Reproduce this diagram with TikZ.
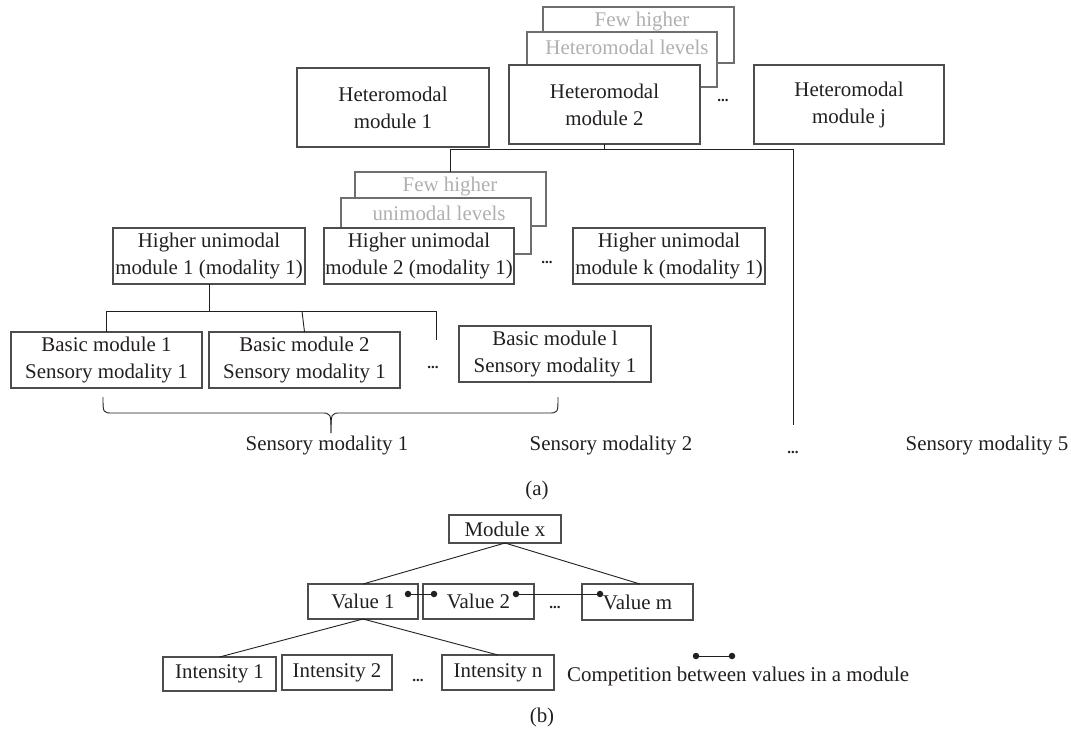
\documentclass[tikz,border=0pt]{standalone}
\usepackage{fontspec}
\setmainfont{Liberation Serif}
\definecolor{txt}{HTML}{231F20}
\definecolor{edge}{HTML}{4D4D4D}
\definecolor{ghost}{HTML}{B0B0B0}
\definecolor{ghostedge}{HTML}{6E6E6E}
\tikzset{
  every node/.style={font=\fontsize{20.9}{27}\selectfont, text=txt},
  box/.style 2 args={draw=edge, line width=1.1pt, fill=white, inner sep=0pt, outer sep=0pt,
    minimum width=#1pt, minimum height=#2pt, align=center},
  ghostbox/.style 2 args={box={#1}{#2}, draw=ghostedge},
  ghosttext/.style={text=ghost, inner sep=0pt},
  lbl/.style={inner sep=0pt},
  ellip/.style={inner sep=0pt, font=\fontsize{15}{15}\selectfont\bfseries},
  wire/.style={draw=txt, line width=0.9pt},
  dotmark/.style={circle, fill=txt, inner sep=0pt, minimum size=6.5pt},
}
\begin{document}
\begin{tikzpicture}[x=1pt, y=-1pt]
\useasboundingbox (0,0) rectangle (1071,729);
\fill[white] (0,0) rectangle (1071,729);

% ---------- heteromodal level ----------
\node[box={192}{79}] (hm1) at (393,107.5) {Heteromodal\\module 1};
\node[ghostbox={191}{56}] (hb2) at (638.5,35) {};
\node[ghosttext] (hb2t) at (642,21) {Few higher};
\node[ghostbox={190}{55}] (hb1) at (622,59.5) {};
\node[ghosttext] (hb1t) at (627,47) {Heteromodal levels};
\node[box={191}{79}] (hm2) at (604.5,104.5) {Heteromodal\\module 2};
\node[ellip] (hdots) at (723,100) {...};
\node[box={190}{79}] (hmj) at (849,104.5) {Heteromodal\\module j};

\coordinate (tbR) at (793,149);
\coordinate (tbEnd) at (793,425);

% ---------- higher unimodal level ----------
\node[ghostbox={191}{54}] (ub2) at (450.5,199) {};
\node[ghosttext] (ub2t) at (450,186) {Few higher};
\node[ghostbox={190}{56}] (ub1) at (436,226) {};
\node[ghosttext] (ub1t) at (439,213) {unimodal levels};
\node[box={190}{56}] (hu2) at (419,256) {Higher unimodal\\module 2 (modality 1)};
\node[box={192}{56}] (hu1) at (209,256) {Higher unimodal\\module 1 (modality 1)};
\node[ellip] (udots) at (547,262) {...};
\node[box={192}{56}] (huk) at (669,256) {Higher unimodal\\module k (modality 1)};

\draw[wire] (hm2.south) -- (hm2.south |- tbR);
\draw[wire] (ub2.north) |- (tbR) -- (tbEnd);

% ---------- basic level ----------
\node[box={191}{56}] (bm1) at (106.5,360) {Basic module 1\\Sensory modality 1};
\node[box={191}{56}] (bm2) at (304.5,360) {Basic module 2\\Sensory modality 1};
\node[ellip] (bdots) at (433,367) {...};
\node[box={192}{56}] (bml) at (555,354) {Basic module l\\Sensory modality 1};

\coordinate (barR) at (436,311);
\coordinate (barEnd) at (436,340);
\draw[wire] (hu1.south) -- (hu1.south |- barR);
\draw[wire] (bm1.north) |- (barR) -- (barEnd);
\draw[wire] (bm2.north) -- (302,311);

% brace
\draw[wire] (103,397) .. controls (103,413) .. (113,413) -- (321,413)
  .. controls (331,413) .. (331,433);
\draw[wire] (558,397) .. controls (558,413) .. (548,413) -- (341,413)
  .. controls (331,413) .. (331,433);

\node[lbl] (sm1) at (327,445) {Sensory modality 1};
\node[lbl] (sm2) at (611,445) {Sensory modality 2};
\node[ellip] (sdots) at (793,452) {...};
\node[lbl] (sm5) at (987,445) {Sensory modality 5};
\node[lbl] (capa) at (537,490) {(a)};

% ---------- part (b) ----------
\node[box={112}{28}] (mx) at (505,529) {Module x};
\node[box={110}{35}] (v1) at (363,601.5) {Value 1};
\node[box={111}{35}] (v2) at (478.5,601.5) {Value 2};
\node[ellip] (vdots) at (555,607) {...};
\node[box={111}{36}] (vm) at (637.5,602) {Value m};

\draw[wire] (mx.south) -- (v1.north);
\draw[wire] (mx.south) -- (640,584);

\node[dotmark] (d1) at (408,594) {};
\node[dotmark] (d2) at (434,594) {};
\node[dotmark] (d3) at (516,594) {};
\node[dotmark] (d4) at (600,594) {};
\draw[wire] (d1) -- (d2);
\draw[wire] (d3) -- (d4);

\node[box={113}{34}] (i1) at (219.5,674) {Intensity 1};
\node[box={110}{35}] (i2) at (337,672.5) {Intensity 2};
\node[ellip] (idots) at (418,680) {...};
\node[box={112}{35}] (in) at (498,672.5) {Intensity n};

\draw[wire] (v1.south) -- (i1.north);
\draw[wire] (v1.south) -- (in.north);

\node[dotmark] (l1) at (696,656) {};
\node[dotmark] (l2) at (732,656) {};
\draw[wire] (l1) -- (l2);
\node[lbl, anchor=west] (comp) at (567,676) {Competition between values in a module};
\node[lbl] (capb) at (542,717) {(b)};
\end{tikzpicture}
\end{document}
